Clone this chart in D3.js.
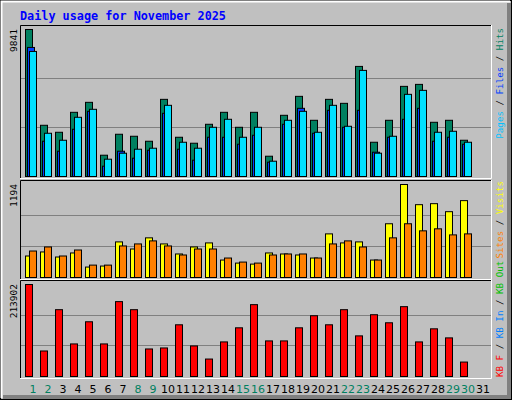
<!DOCTYPE html>
<html><head><meta charset="utf-8">
<script src="https://cdn.jsdelivr.net/npm/d3@7"></script>
<style>body{margin:0;background:#fff}svg{display:block}</style>
</head><body><div id="chart"></div>
<script>
const days = d3.range(1, 32)
const weekends = [1, 2, 8, 9, 15, 16, 22, 23, 29, 30]
const hits = [9841,3429,2961,4297,4965,1425,2828,2694,2360,5165,2627,2227,3496,4297,3295,4297,1358,4097,5366,3763,5165,4898,7370,2293,3763,6034,6167,3629,3763,2427]
const files = [8639,2360,1692,3162,4364,690,1692,1225,1759,4230,1826,1091,2627,2627,2160,2761,957,3496,4564,2894,4431,3295,4431,1625,2627,3830,4564,2360,2627,2160]
const pages = [8372,2894,2427,3963,4498,1158,1559,1826,1893,4765,2293,1893,3295,3830,2627,3295,1024,3763,4364,2961,4765,3362,7103,1559,2694,5500,5767,2961,3028,2293]
const visits = [276,328,263,315,134,147,457,366,509,431,302,392,444,224,185,172,315,302,289,250,560,444,457,224,690,1194,935,948,845,987]
const sites = [340,392,276,353,159,159,405,431,470,405,289,366,366,250,198,185,289,302,302,250,431,470,392,224,509,690,599,625,547,560]
const kbf = [213902,59333,155359,75728,127254,75728,174096,155359,64017,66360,120228,71044,40596,80412,113202,167070,82754,82754,113202,141307,120228,155359,94465,143649,124912,162386,80412,110859,89781,33570]

const W = 512, H = 400
const svg = d3.select("div#chart").append("svg").attr("width", W).attr("height", H)
  .style("font-family", "'DejaVu Sans Mono', monospace")

// frame
svg.append("rect").attr("width", W).attr("height", H).attr("fill", "#c0c0c0")
svg.append("rect").attr("x", 0.5).attr("y", 0.5).attr("width", W - 1).attr("height", H - 1).attr("fill", "none").attr("stroke", "#000")
svg.append("path").attr("d", "M1.5,398V1.5H510").attr("stroke", "#fff").attr("stroke-width", 2).attr("fill", "none")
svg.append("path").attr("d", `M3,${H - 3}H${W - 3}V3`).attr("stroke", "#808080").attr("stroke-width", 4).attr("fill", "none")

svg.append("text").attr("x", 20).attr("y", 20).attr("fill", "#0000ff")
  .attr("font-size", 11.8).attr("font-weight", "bold").text("Daily usage for November 2025")

const x = d3.scaleLinear().domain([1, 32]).range([25, 25 + 15 * 31])
const left = 20, right = 491

function panel(top, bottom, maxV) {
  const g = svg.append("g")
  g.append("path").attr("d", `M${left + 0.5},${bottom}V${top + 0.5}H${right}`).attr("stroke", "#000").attr("fill", "none")
  g.append("path").attr("d", `M${left},${bottom + 0.5}H${right + 0.5}V${top}`).attr("stroke", "#fff").attr("fill", "none")
  const y = d3.scaleLinear().domain([0, maxV]).range([bottom - 2, top + 4])
  g.selectAll("line.grid").data([maxV / 3, 2 * maxV / 3]).join("line")
    .attr("x1", left + 1).attr("x2", right).attr("y1", d => Math.round(y(d)) + 0.5).attr("y2", d => Math.round(y(d)) + 0.5)
    .attr("stroke", "#808080")
  g.append("text").attr("transform", `translate(17,${top + 4}) rotate(-90)`).attr("text-anchor", "end")
    .attr("font-size", 9.5).attr("fill", "#000").text(maxV)
  return { g, y }
}

function bars(p, data, off, w, color) {
  p.g.selectAll(null).data(data).join("rect")
    .attr("x", (d, i) => x(i + 1) + off + 0.5)
    .attr("y", d => p.y(d) + 0.5)
    .attr("width", w)
    .attr("height", d => p.y(0) - p.y(d))
    .attr("fill", color).attr("stroke", "#000")
}

const p1 = panel(25, 178, 9841)
bars(p1, hits, 0, 7, "#008060")
bars(p1, files, 2, 7, "#0040ff")
bars(p1, pages, 4, 7, "#00e0ff")

const p2 = panel(180, 279, 1194)
bars(p2, visits, 0, 7, "#ffff00")
bars(p2, sites, 4, 7, "#ff8000")

const p3 = panel(280, 378, 213902)
bars(p3, kbf, 0, 7, "#ff0000")

// day labels
svg.selectAll("text.day").data(days).join("text")
  .attr("x", d => x(d) + 8).attr("y", 393).attr("text-anchor", "middle")
  .attr("font-family", "'DejaVu Sans', sans-serif").attr("font-size", 11)
  .attr("fill", d => weekends.includes(d) ? "#008060" : "#000").text(d => d)

// right-side labels
function sideLabel(yPos, anchor, parts) {
  const t = svg.append("text").attr("transform", `translate(503,${yPos}) rotate(-90)`)
    .attr("text-anchor", anchor).attr("font-size", 9.2)
  parts.forEach(([s, c]) => t.append("tspan").attr("fill", c).text(s))
}
sideLabel(28, "end", [["Pages", "#00c0ff"], [" / ", "#000"], ["Files", "#0040ff"], [" / ", "#000"], ["Hits", "#008060"]])
sideLabel(181, "end", [["Sites", "#ff8000"], [" / ", "#000"], ["Visits", "#ffff00"]])
sideLabel(377, "start", [["KB F", "#ff0000"], [" / ", "#000"], ["KB In", "#0080ff"], [" / ", "#000"], ["KB Out", "#00c000"]])
</script></body></html>
